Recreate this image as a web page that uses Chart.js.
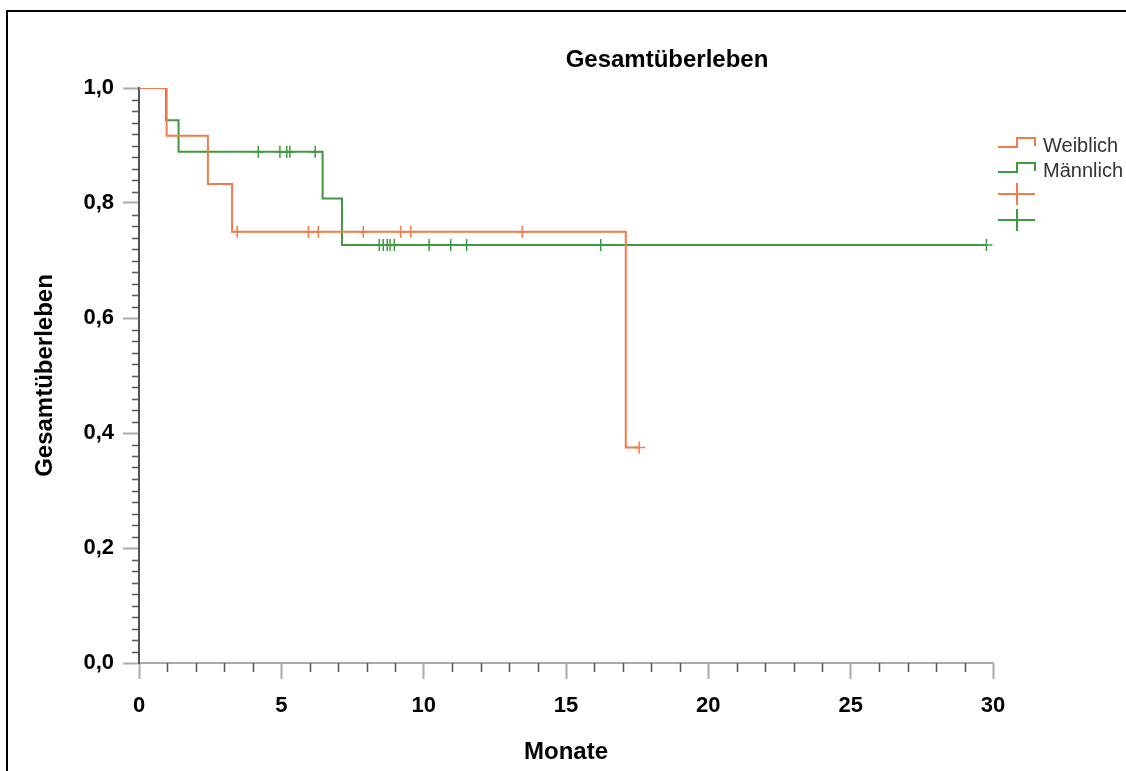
<!DOCTYPE html>
<html>
<head>
<meta charset="utf-8">
<script src="https://cdn.jsdelivr.net/npm/chart.js@4/dist/chart.umd.min.js"></script>
<style>
html, body { margin: 0; padding: 0; background: #fff; }
#wrap { position: relative; width: 1126px; height: 771px; overflow: hidden; }
#rahmen { position: absolute; left: 6px; top: 10px; width: 1300px; height: 900px; border-top: 2px solid #000; border-left: 2px solid #000; pointer-events: none; }
canvas { position: absolute; left: 0; top: 0; }
</style>
</head>
<body>
<div id="wrap">
  <canvas id="charts" width="1126" height="771"></canvas>
  <div id="rahmen"></div>
</div>
<script>
// Achsen
var monateTicks = [0, 5, 10, 15, 20, 25, 30];
var anteilTicks = [0, 0.2, 0.4, 0.6, 0.8, 1.0];
var legendenText = ['Weiblich', 'Männlich', '', ''];

// Kaplan-Meier Stufen (Zeit in Monaten, Überleben)
var weiblichZeit = [0, 0.97, 2.42, 3.27, 17.1, 17.57];
var weiblichWert = [1, 0.917, 0.833, 0.75, 0.375, 0.375];
var maennlichZeit = [0, 0.95, 1.39, 6.45, 7.13, 29.77];
var maennlichWert = [1, 0.944, 0.889, 0.808, 0.727, 0.727];

// zensierte Fälle
var weiblichZensiertZeit = [3.45, 5.95, 6.3, 7.88, 9.19, 9.55, 13.46, 17.57];
var weiblichZensiertWert = [0.75, 0.75, 0.75, 0.75, 0.75, 0.75, 0.75, 0.375];
var maennlichZensiertZeit = [4.19, 4.95, 5.19, 5.3, 6.19, 8.44, 8.58, 8.72, 8.82, 8.97, 10.19, 10.95, 11.51, 16.22, 29.77];
var maennlichZensiertWert = [0.889, 0.889, 0.889, 0.889, 0.889, 0.727, 0.727, 0.727, 0.727, 0.727, 0.727, 0.727, 0.727, 0.727, 0.727];

var orange = '#f37a4a';
var gruen = '#3f9a3f';
var schrift = '"Liberation Sans", Arial, sans-serif';

var xMinor = [];
for (var i = 1; i < 30; i++) { if (i % 5 != 0) xMinor.push(i); }
var yMinor = [];
for (var j = 1; j < 50; j++) { if (j % 10 != 0) yMinor.push(j / 50); }

function punkte(xs, ys) {
    return xs.map(function (x, i) { return { x: x, y: ys[i] }; });
}

var nebenStriche = {
    id: 'nebenStriche',
    afterDraw: function (chart) {
        var ctx = chart.ctx, xs = chart.scales.x, ys = chart.scales.y;
        ctx.save();
        ctx.strokeStyle = '#555';
        ctx.lineWidth = 1.5;
        ctx.beginPath();
        xMinor.forEach(function (v) {
            var px = Math.round(xs.getPixelForValue(v)) + 0.5;
            ctx.moveTo(px, ys.bottom);
            ctx.lineTo(px, ys.bottom + 9);
        });
        yMinor.forEach(function (v) {
            var py = Math.round(ys.getPixelForValue(v)) + 0.5;
            ctx.moveTo(xs.left - 7, py);
            ctx.lineTo(xs.left, py);
        });
        ctx.stroke();
        ctx.restore();
    }
};

var titel = {
    id: 'titel',
    afterDraw: function (chart) {
        var ctx = chart.ctx;
        ctx.save();
        ctx.font = 'bold 24px ' + schrift;
        ctx.fillStyle = '#000';
        ctx.textAlign = 'center';
        ctx.textBaseline = 'alphabetic';
        ctx.fillText('Gesamtüberleben', chart.chartArea.right - 326, chart.chartArea.top - 21);
        ctx.restore();
    }
};

var legende = {
    id: 'legende',
    afterDraw: function (chart) {
        var ctx = chart.ctx;
        var x0 = chart.chartArea.right + 5, y0 = chart.chartArea.top;
        var farben = [orange, gruen, orange, gruen];
        ctx.save();
        ctx.lineWidth = 2;
        // Stufen-Symbole
        [0, 1].forEach(function (k) {
            var unten = y0 + 59 + k * 25, oben = unten - 9;
            ctx.strokeStyle = farben[k];
            ctx.beginPath();
            ctx.moveTo(x0, unten);
            ctx.lineTo(x0 + 19, unten);
            ctx.lineTo(x0 + 19, oben);
            ctx.lineTo(x0 + 37, oben);
            ctx.lineTo(x0 + 37, unten - 1);
            ctx.stroke();
            ctx.fillStyle = '#333';
            ctx.font = '20px ' + schrift;
            ctx.textBaseline = 'alphabetic';
            ctx.fillText(legendenText[k], x0 + 45, unten + 5);
        });
        // Kreuz-Symbole
        [2, 3].forEach(function (k) {
            var mitte = y0 + 106 + (k - 2) * 26;
            ctx.strokeStyle = farben[k];
            ctx.beginPath();
            ctx.moveTo(x0, mitte);
            ctx.lineTo(x0 + 37, mitte);
            ctx.moveTo(x0 + 19, mitte - 11);
            ctx.lineTo(x0 + 19, mitte + 11);
            ctx.stroke();
            ctx.fillText(legendenText[k], x0 + 45, mitte + 5);
        });
        ctx.restore();
    }
};

var ctx = document.getElementById('charts');
new Chart(ctx, {
    type: 'line',
    data: {
        datasets: [{
            label: legendenText[0],
            data: punkte(weiblichZeit, weiblichWert),
            borderColor: orange,
            borderWidth: 2,
            stepped: true,
            pointRadius: 0,
            fill: false
        }, {
            label: legendenText[1],
            data: punkte(maennlichZeit, maennlichWert),
            borderColor: gruen,
            borderWidth: 2,
            stepped: true,
            pointRadius: 0,
            fill: false
        }, {
            label: 'Weiblich zensiert',
            data: punkte(weiblichZensiertZeit, weiblichZensiertWert),
            showLine: false,
            pointStyle: 'cross',
            pointRadius: 6,
            pointBorderWidth: 1.5,
            borderColor: orange,
            pointBorderColor: orange
        }, {
            label: 'Männlich zensiert',
            data: punkte(maennlichZensiertZeit, maennlichZensiertWert),
            showLine: false,
            pointStyle: 'cross',
            pointRadius: 6,
            pointBorderWidth: 1.5,
            borderColor: gruen,
            pointBorderColor: gruen
        }]
    },
    options: {
        responsive: false,
        animation: false,
        layout: { padding: { left: 27, top: 88, right: 133, bottom: 0 } },
        plugins: {
            legend: { display: false },
            title: { display: false },
            tooltip: { enabled: false }
        },
        scales: {
            x: {
                type: 'linear',
                min: 0,
                max: 30,
                afterBuildTicks: function (scale) {
                    scale.ticks = monateTicks.map(function (v) { return { value: v }; });
                },
                afterFit: function (scale) { scale.height = 108; },
                ticks: {
                    color: '#000',
                    font: { family: schrift, size: 22, weight: 'bold' },
                    padding: 14,
                    maxRotation: 0
                },
                grid: { drawOnChartArea: false, tickLength: 16, tickColor: '#aaa', tickWidth: 2 },
                border: { color: '#aaa', width: 2 },
                title: {
                    display: true,
                    text: 'Monate',
                    color: '#000',
                    font: { family: schrift, size: 24, weight: 'bold' },
                    padding: { top: 0, bottom: 4 }
                }
            },
            y: {
                min: 0,
                max: 1,
                afterBuildTicks: function (scale) {
                    scale.ticks = anteilTicks.map(function (v) { return { value: v }; });
                },
                afterFit: function (scale) { scale.width = 112; },
                ticks: {
                    color: '#000',
                    font: { family: schrift, size: 22, weight: 'bold' },
                    padding: 9,
                    callback: function (v) { return v.toFixed(1).replace('.', ','); }
                },
                grid: { drawOnChartArea: false, tickLength: 16, tickColor: '#aaa', tickWidth: 2 },
                border: { color: '#555', width: 2 },
                title: {
                    display: true,
                    text: 'Gesamtüberleben',
                    color: '#000',
                    font: { family: schrift, size: 24, weight: 'bold' },
                    padding: { top: 4, bottom: 0 }
                }
            }
        }
    },
    plugins: [nebenStriche, titel, legende]
});
</script>
</body>
</html>
